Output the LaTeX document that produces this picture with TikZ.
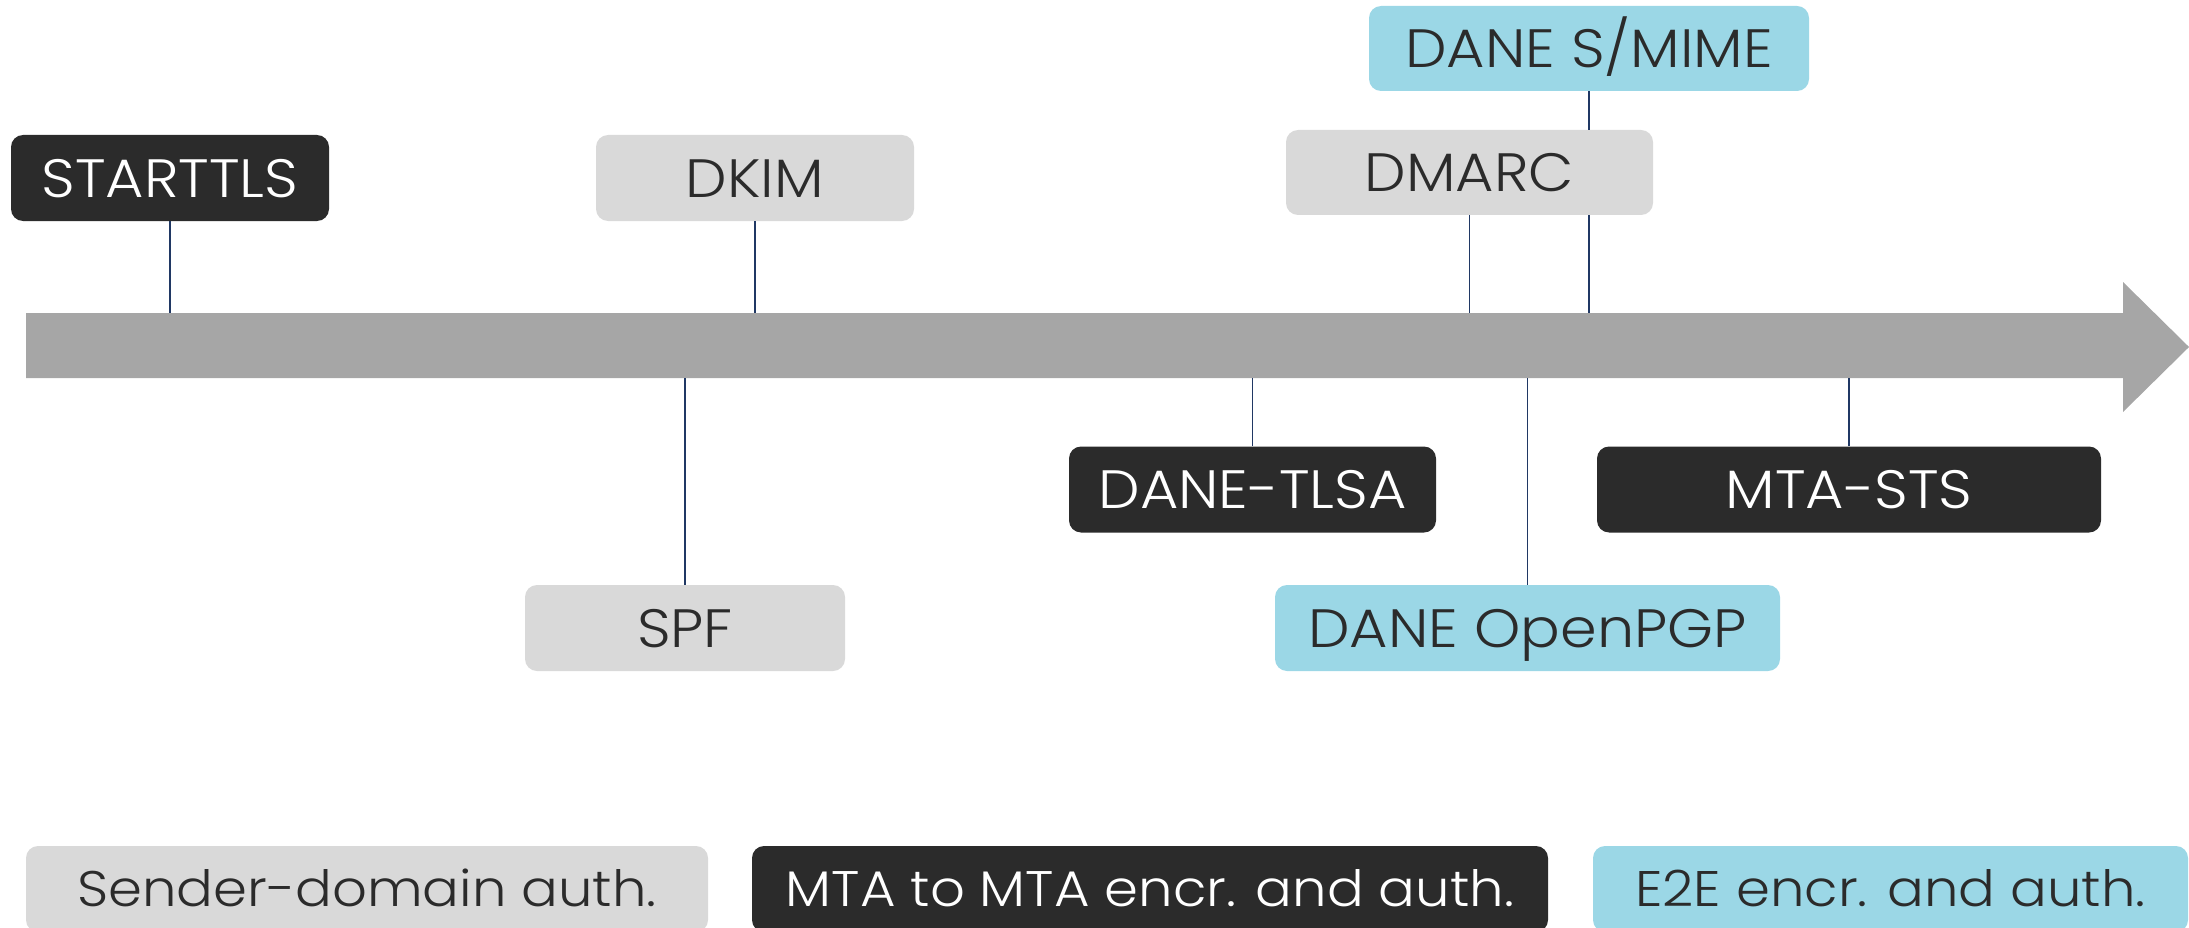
\documentclass[tikz,border=0pt]{standalone}
\usepackage{fontspec}
\setmainfont{Poppins Light}[FakeStretch=1.09]
\definecolor{darkbox}{HTML}{2B2B2B}
\definecolor{lightbox}{HTML}{D9D9D9}
\definecolor{bluebox}{HTML}{9BD7E6}
\definecolor{arrowgray}{HTML}{A6A6A6}
\definecolor{tickline}{HTML}{203864}
\definecolor{txt}{HTML}{2B2B2B}
\tikzset{
  box/.style={rounded corners=12pt, inner sep=0pt, minimum height=86pt,
    text height=38pt, text depth=0pt, font=\fontsize{54}{60}\selectfont},
  darkb/.style={box, fill=darkbox, text=white},
  lightb/.style={box, fill=lightbox, text=txt},
  blueb/.style={box, fill=bluebox, text=txt},
  legend/.style={text height=35pt, font=\fontsize{50}{56}\selectfont},
  tick/.style={draw=tickline, line width=1.5pt},
}
\begin{document}
\begin{tikzpicture}[x=1pt,y=-1pt]
\useasboundingbox (0,0) rectangle (2189,928);
\clip (0,0) rectangle (2189,928);
% timeline arrow
\fill[arrowgray] (26,313) -- (2123,313) -- (2123,282) -- (2189,347) -- (2123,412) -- (2123,378) -- (26,378) -- cycle;
\coordinate (top) at (0,313);
\coordinate (bot) at (0,378);
% boxes
\node[darkb, minimum width=318pt] (starttls) at (170,178) {STARTTLS};
\node[lightb, minimum width=318pt] (dkim) at (755,178) {DKIM};
\node[lightb, minimum width=367pt, minimum height=85pt] (dmarc) at (1469.5,172.5) {DMARC};
\node[blueb, minimum width=440pt, minimum height=85pt] (smime) at (1589,48.5) {DANE S/MIME};
\node[lightb, minimum width=320pt] (spf) at (685,628) {SPF};
\node[darkb, minimum width=367pt] (tlsa) at (1252.5,489.5) {DANE-TLSA};
\node[darkb, minimum width=504pt] (mtasts) at (1849,489.5) {MTA-STS};
\node[blueb, minimum width=505pt] (openpgp) at (1527.5,628) {DANE OpenPGP};
% connectors
\draw[tick] (starttls.south) -- (starttls.south |- top);
\draw[tick] (dkim.south) -- (dkim.south |- top);
\draw[tick] (dmarc.south) -- (dmarc.south |- top);
\draw[tick] (smime.south) -- (smime.south |- dmarc.north);
\draw[tick] (smime.south |- dmarc.south) -- (smime.south |- top);
\draw[tick] (spf.north) -- (spf.north |- bot);
\draw[tick] (tlsa.north) -- (tlsa.north |- bot);
\draw[tick] (mtasts.north) -- (mtasts.north |- bot);
\draw[tick] (openpgp.north) -- (openpgp.north |- bot);
% legend
\node[lightb, legend, minimum width=682pt] (lsender) at (367,889) {Sender-domain auth.};
\node[darkb, legend, minimum width=796pt] (lmta) at (1150,889) {MTA to MTA encr. and auth.};
\node[blueb, legend, minimum width=595pt] (le2e) at (1890.5,889) {E2E encr. and auth.};
\end{tikzpicture}
\end{document}
